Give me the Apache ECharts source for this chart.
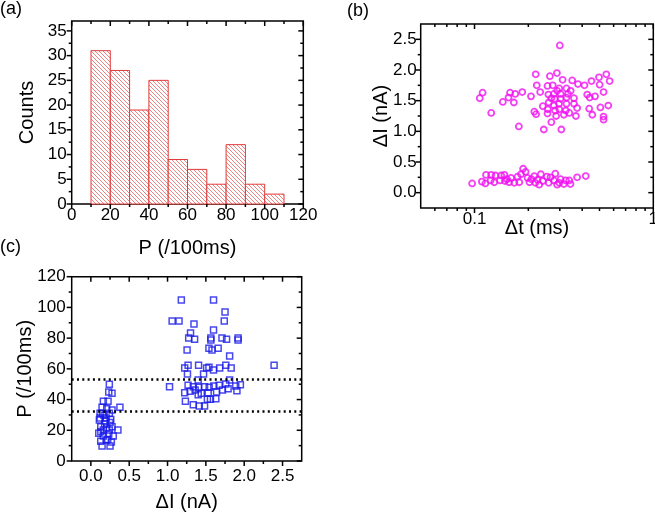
<!DOCTYPE html>
<html><head><meta charset="utf-8">
<script src="https://cdn.jsdelivr.net/npm/echarts@6/dist/echarts.min.js"></script>
<style>html,body{margin:0;padding:0;background:#fff}#c{width:655px;height:512px}</style>
</head><body><div id="c"></div>
<script>
// ---------- data ----------
// (a) histogram of P (/100ms)
const binStarts = [10,20,30,40,50,60,70,80,90,100];
const binWidth = 10;
const counts = [31,27,19,25,9,7,4,12,4,2];
const histXTicks = [0,20,40,60,80,100,120];
const histXMinor = [10,30,50,70,90,110];
const histYTicks = [0,5,10,15,20,25,30,35];
const histYMinor = [2.5,7.5,12.5,17.5,22.5,27.5,32.5];

// (b) Δt (ms) vs ΔI (nA)
const scatterB = [
 [0.30,2.40],[0.22,1.93],[0.264,1.90],[0.289,1.95],[0.311,1.84],[0.352,1.83],[0.379,1.77],[0.412,1.75],
 [0.451,1.82],[0.497,1.88],[0.546,1.93],[0.570,1.82],[0.501,1.76],[0.223,1.75],[0.256,1.74],[0.274,1.75],
 [0.298,1.70],[0.327,1.70],[0.233,1.64],[0.259,1.60],[0.278,1.61],[0.303,1.61],[0.333,1.61],[0.360,1.54],
 [0.427,1.60],[0.472,1.57],[0.441,1.55],[0.527,1.64],[0.207,1.57],[0.185,1.64],[0.169,1.61],[0.158,1.63],
 [0.155,1.55],[0.166,1.47],[0.144,1.48],[0.111,1.63],[0.107,1.54],[0.124,1.30],[0.177,1.08],[0.244,1.03],
 [0.306,1.03],[0.269,1.15],[0.256,1.29],[0.241,1.41],[0.260,1.47],[0.281,1.53],[0.303,1.53],[0.327,1.55],
 [0.278,1.42],[0.298,1.36],[0.324,1.34],[0.282,1.34],[0.286,1.25],[0.316,1.27],[0.339,1.30],[0.375,1.38],
 [0.369,1.25],[0.438,1.37],[0.456,1.27],[0.506,1.39],[0.560,1.42],[0.527,1.24],[0.527,1.19],[0.216,1.32],
 [0.221,1.28],[0.269,1.54],[0.297,1.45],[0.327,1.45],[0.360,1.45],[0.257,1.36],[0.345,1.66],[0.290,1.66],
 [0.097,0.15],[0.110,0.18],[0.116,0.29],[0.115,0.15],[0.123,0.20],[0.131,0.28],[0.129,0.17],[0.139,0.20],
 [0.147,0.29],[0.148,0.19],[0.160,0.24],[0.167,0.16],[0.174,0.26],[0.178,0.17],[0.187,0.39],[0.193,0.34],
 [0.198,0.24],[0.203,0.17],[0.216,0.27],[0.219,0.16],[0.235,0.30],[0.241,0.19],[0.254,0.26],[0.260,0.16],
 [0.283,0.31],[0.278,0.20],[0.303,0.22],[0.316,0.14],[0.339,0.20],[0.344,0.14],[0.375,0.25],[0.419,0.27],
 [0.156,0.17],[0.124,0.29],[0.141,0.28],[0.182,0.30],[0.225,0.21],[0.266,0.25],[0.298,0.16],[0.324,0.20],
 [0.208,0.22],[0.152,0.22],[0.230,0.13],[0.290,0.13]
];
const dtMajor = [0.1, 1];
const dtMinor = [0.06,0.07,0.08,0.09,0.2,0.3,0.4,0.5,0.6,0.7,0.8,0.9];
const dIMajor = [0,0.5,1,1.5,2,2.5];
const dIMinor = [0.25,0.75,1.25,1.75,2.25];

// (c) ΔI (nA) vs P (/100ms)
const scatterC = [
 [1.18,104.8],[1.60,104.8],[1.75,97],[1.06,91.1],[1.15,91.1],[1.345,89.2],[1.74,91.1],[1.30,83.3],
 [1.60,85.3],[1.276,80.1],[1.353,79.2],[1.565,80.1],[1.565,78.8],[1.71,80.1],[1.77,79.2],[1.92,80.1],
 [1.92,78.8],[1.255,72.3],[1.54,73.4],[1.58,72.3],[1.66,73.4],[1.81,68.4],[1.224,60.5],[1.268,62.3],
 [1.405,62.3],[1.51,60.5],[1.54,61],[1.60,59.2],[1.68,60.5],[1.76,62.3],[1.83,60.5],[2.39,62.3],
 [1.26,56.6],[1.47,56.6],[1.81,52.7],[1.026,48.4],[1.268,49.3],[1.336,48.4],[1.405,48],[1.483,48.4],
 [1.543,48],[1.604,48.8],[1.673,49.3],[1.76,50.1],[1.89,48.8],[1.95,49.7],[1.224,44.5],[1.294,45.4],
 [1.36,46.2],[1.44,44.1],[1.53,44.5],[1.64,44.9],[1.716,46.2],[1.79,47.1],[1.905,45.8],[1.233,38.9],
 [1.40,43.2],[1.52,40.2],[1.63,40.6],[1.336,36.7],[1.414,35.8],[1.483,35.8],[1.56,40.2],[1.40,52.7],
 [0.241,49.9],[0.233,44.9],[0.276,44.1],[0.163,38.9],[0.224,38.9],[0.379,35],[0.146,35],[0.207,34],
 [0.276,33.2],[0.12,31.1],[0.172,29.8],[0.241,31.1],[0.111,26.7],[0.189,26.2],[0.259,27.1],[0.353,20.2],
 [0.129,22.3],[0.207,21.5],[0.276,22.3],[0.103,18],[0.163,16.3],[0.233,17.6],[0.292,16.3],[0.129,12.8],
 [0.198,13.7],[0.267,12.4],[0.146,9.8],[0.25,9.8],[0.181,24.1],[0.241,20.2],[0.163,20.2],[0.12,28],
 [0.15,31],[0.2,28],[0.25,25],[0.13,19],[0.22,14]
];
const thresholds = [53.4, 32.7];
const cXMajor = [0,0.5,1,1.5,2,2.5];
const cXMinor = [0.25,0.75,1.25,1.75,2.25];
const cYMajor = [0,20,40,60,80,100,120];
const cYMinor = [10,30,50,70,90,110];

// ---------- styling helpers ----------
const FONT = 'Liberation Sans, Arial, sans-serif';
const TICK_FS = 17, NAME_FS = 20;
const MAJ = 5, MIN = 3, TW = 1.5;

function hatch() {
  const w = 4, c = document.createElement('canvas');
  c.width = w; c.height = w;
  const g = c.getContext('2d');
  g.fillStyle = '#fff'; g.fillRect(0,0,w,w);
  g.strokeStyle = 'rgba(228,70,70,0.75)'; g.lineWidth = 0.9;
  g.beginPath();
  g.moveTo(-1,-1); g.lineTo(w+1,w+1);
  g.moveTo(-1,w-1); g.lineTo(1,w+1);
  g.moveTo(w-1,-1); g.lineTo(w+1,1);
  g.stroke();
  return {image: c, repeat: 'repeat'};
}

function axis(o) {
  return {
    type: o.type || 'value', gridIndex: o.grid, min: o.min, max: o.max, position: o.pos,
    axisLine: {show: false, onZero: false},
    splitLine: {show: false},
    minorTick: {show: false},
    axisTick: {show: false},
    axisLabel: {show: true, customValues: o.labels, formatter: o.fmt || (v => String(v)),
                margin: o.margin, fontSize: TICK_FS, color: '#000', fontFamily: FONT,
                showMinLabel: true, showMaxLabel: true, hideOverlap: false},
    name: o.name, nameLocation: 'middle', nameGap: o.nameGap, nameMoveOverlap: false,
    nameTextStyle: {fontSize: NAME_FS, fontFamily: FONT, color: '#000'}
  };
}
const fmt1 = v => Number(v).toFixed(1);

const gridStyle = {show: true, borderColor: '#000', borderWidth: 1.5, backgroundColor: 'transparent',
                   containLabel: false, outerBoundsMode: 'none'};
const pattern = hatch();
const rangeA = {x: [0, 120], y: [0, 37]};
const rangeB = {x: [0.05, 1], y: [-0.25, 2.75]};
const rangeC = {x: [-0.25, 2.75], y: [0, 120]};

const labelGraphics = [
  {type: 'text', left: 0, top: 0, style: {text: '(a)', font: '18px ' + FONT, fill: '#000'}},
  {type: 'text', left: 347, top: 2, style: {text: '(b)', font: '18px ' + FONT, fill: '#000'}},
  {type: 'text', left: 0, top: 238, style: {text: '(c)', font: '18px ' + FONT, fill: '#000'}}
];

const option = {
  animation: false,
  backgroundColor: '#fff',
  textStyle: {fontFamily: FONT},
  grid: [
    Object.assign({left: 71.7, top: 21, width: 231.6, height: 183}, gridStyle),
    Object.assign({left: 420.7, top: 24, width: 232.6, height: 184}, gridStyle),
    Object.assign({left: 71.7, top: 276.7, width: 230, height: 184.3}, gridStyle)
  ],
  xAxis: [
    axis({grid: 0, min: rangeA.x[0], max: rangeA.x[1], pos: 'bottom', labels: histXTicks, margin: 3,
          name: 'P (/100ms)', nameGap: 34}),
    axis({grid: 1, type: 'log', min: rangeB.x[0], max: rangeB.x[1], pos: 'bottom', labels: dtMajor, margin: 3,
          name: 'Δt (ms)', nameGap: 10}),
    axis({grid: 2, min: rangeC.x[0], max: rangeC.x[1], pos: 'bottom', labels: cXMajor, margin: 7, fmt: fmt1,
          name: 'ΔI (nA)', nameGap: 31})
  ],
  yAxis: [
    axis({grid: 0, min: rangeA.y[0], max: rangeA.y[1], pos: 'left', labels: histYTicks, margin: 5,
          name: 'Counts', nameGap: 34}),
    axis({grid: 1, min: rangeB.y[0], max: rangeB.y[1], pos: 'left', labels: dIMajor, margin: 4, fmt: fmt1,
          name: 'ΔI (nA)', nameGap: 29}),
    axis({grid: 2, min: rangeC.y[0], max: rangeC.y[1], pos: 'left', labels: cYMajor, margin: 6,
          name: 'P (/100ms)', nameGap: 36})
  ],
  graphic: labelGraphics,
  series: [
    {
      type: 'custom', xAxisIndex: 0, yAxisIndex: 0,
      data: binStarts.map((s, i) => [s, s + binWidth, counts[i]]),
      encode: {x: [0, 1], y: 2},
      renderItem: function (params, api) {
        const p0 = api.coord([api.value(0), api.value(2)]);
        const p1 = api.coord([api.value(1), 0]);
        return {type: 'rect',
          shape: {x: p0[0], y: p0[1], width: p1[0] - p0[0], height: p1[1] - p0[1]},
          style: {fill: pattern, stroke: '#e03a3a', lineWidth: 1}};
      }
    },
    {
      type: 'scatter', xAxisIndex: 1, yAxisIndex: 1, data: scatterB,
      symbol: 'circle', symbolSize: 6,
      itemStyle: {color: 'rgba(255,255,255,0)', borderColor: '#f010f0', borderWidth: 1.8}
    },
    {
      type: 'scatter', xAxisIndex: 2, yAxisIndex: 2, data: scatterC,
      symbol: 'rect', symbolSize: 6,
      itemStyle: {color: 'rgba(255,255,255,0)', borderColor: '#1a1ae8', borderWidth: 1.5},
      markLine: {
        silent: true, symbol: ['none', 'none'], label: {show: false},
        lineStyle: {type: [2, 3.3], width: 2.5, color: '#000'},
        data: thresholds.map(t => ({yAxis: t}))
      }
    }
  ]
};
const chart = echarts.init(document.getElementById('c'));
chart.setOption(option);

// Tick marks: positions obtained from the axes' own scales via convertToPixel.
const tickEls = [];
function addTicks(gi, xr, yr, xMaj, xMin, yMaj, yMin) {
  const px = (x, y) => chart.convertToPixel({gridIndex: gi}, [x, y]);
  const rect = (x, y, w, h) => tickEls.push({type: 'rect', silent: true, z: 100,
    shape: {x: x, y: y, width: w, height: h}, style: {fill: '#000'}});
  [[xMaj, MAJ], [xMin, MIN]].forEach(([vals, L]) => vals.forEach(v => {
    const b = px(v, yr[0]), t = px(v, yr[1]);
    rect(b[0] - TW / 2, b[1], TW, L);          // bottom, outward
    rect(t[0] - TW / 2, t[1], TW, L);          // top, inward
  }));
  [[yMaj, MAJ], [yMin, MIN]].forEach(([vals, L]) => vals.forEach(v => {
    const l = px(xr[0], v), r = px(xr[1], v);
    rect(l[0] - L, l[1] - TW / 2, L, TW);      // left, outward
    rect(r[0] - L, r[1] - TW / 2, L, TW);      // right, inward
  }));
}
addTicks(0, rangeA.x, rangeA.y, histXTicks, histXMinor, histYTicks, histYMinor);
addTicks(1, rangeB.x, rangeB.y, dtMajor, dtMinor, dIMajor, dIMinor);
addTicks(2, rangeC.x, rangeC.y, cXMajor, cXMinor, cYMajor, cYMinor);
chart.setOption({graphic: labelGraphics.concat(tickEls)});
</script></body></html>
